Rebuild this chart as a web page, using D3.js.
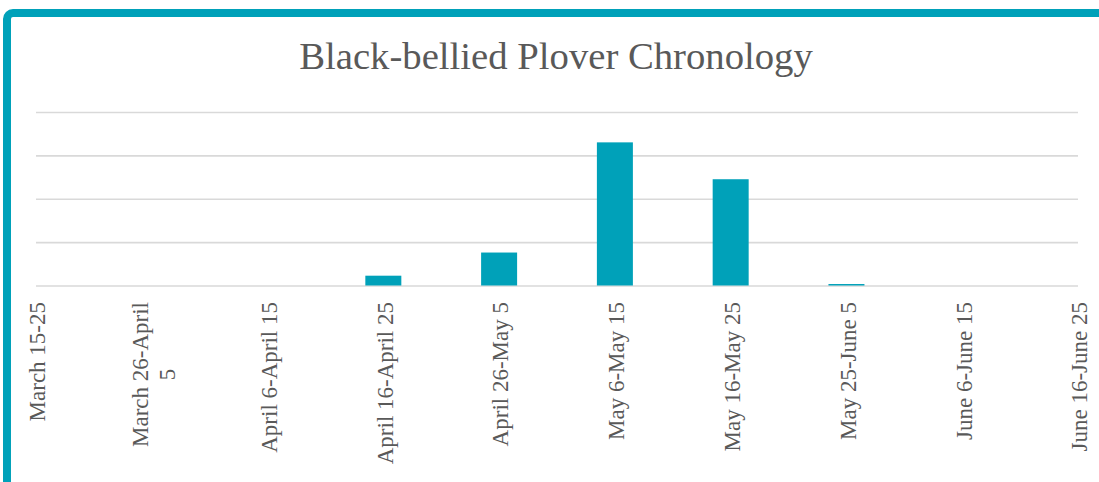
<!DOCTYPE html>
<html>
<head>
<meta charset="utf-8">
<script src="https://cdn.jsdelivr.net/npm/d3@7"></script>
<style>
  html, body { margin: 0; padding: 0; background: #fff; overflow: hidden; }
  svg { display: block; }
</style>
</head>
<body>
<svg id="chart" width="1099" height="482"></svg>
<script>
// ---- data ----
const title = "Black-bellied Plover Chronology";
const categories = [
  "March 15-25", "March 26-April 5", "April 6-April 15", "April 16-April 25",
  "April 26-May 5", "May 6-May 15", "May 16-May 25", "May 25-June 5",
  "June 6-June 15", "June 16-June 25"
];
// tick labels as displayed (wrapped lines)
const tickLabels = [
  ["March 15-25"], ["March 26-April", "5"], ["April 6-April 15"], ["April 16-April 25"],
  ["April 26-May 5"], ["May 6-May 15"], ["May 16-May 25"], ["May 25-June 5"],
  ["June 6-June 15"], ["June 16-June 25"]
];
const values = [0, 0, 0, 11.3, 38, 165, 122.5, 1.7, 0, 0];
const gridTicks = [0, 50, 100, 150, 200];

// ---- layout ----
const teal = "#00A1B9";
const textColor = "#595959";
const plot = { left: 36, right: 1078, top: 112, bottom: 285.5 };

const svg = d3.select("#chart");

// frame
svg.append("rect")
  .attr("x", 7).attr("y", 13)
  .attr("width", 1200).attr("height", 600)
  .attr("rx", 6).attr("ry", 6)
  .attr("fill", "#fff")
  .attr("stroke", teal).attr("stroke-width", 8);

// title
svg.append("text")
  .attr("x", 556).attr("y", 69)
  .attr("text-anchor", "middle")
  .attr("font-family", "'Liberation Serif', serif")
  .attr("font-size", 38.7)
  .attr("fill", textColor)
  .text(title);

const x = d3.scalePoint().domain(categories).range([plot.left, plot.right]).padding(0);
const y = d3.scaleLinear().domain([0, 200]).range([plot.bottom, plot.top]);

// gridlines
const yAxis = d3.axisLeft(y).tickValues(gridTicks).tickSize(-(plot.right - plot.left)).tickFormat("");
const gy = svg.append("g").attr("transform", `translate(${plot.left},0)`).call(yAxis);
gy.select(".domain").remove();
gy.selectAll(".tick line").attr("stroke", "#d9d9d9").attr("stroke-width", 1.6);

// bars
const barW = 36;
svg.append("g").selectAll("rect")
  .data(categories.map((c, i) => ({ c, v: values[i] })))
  .join("rect")
  .attr("x", d => x(d.c) - barW / 2)
  .attr("width", barW)
  .attr("y", d => y(d.v))
  .attr("height", d => y(0) - y(d.v))
  .attr("fill", teal);

// category labels (rotated)
const labelTop = 302;
const fs = 23;
const lineH = 27;
const lg = svg.append("g")
  .attr("font-family", "'Liberation Serif', serif")
  .attr("font-size", fs)
  .attr("fill", textColor);

categories.forEach((c, i) => {
  const lines = tickLabels[i];
  const g = lg.append("g")
    .attr("transform", `translate(${x(c) + 2},${labelTop}) rotate(-90)`);
  const texts = lines.map((ln, j) => g.append("text")
    .attr("text-anchor", "middle")
    .attr("dy", "0.32em")
    .text(ln));
  const maxL = d3.max(texts, t => t.node().getComputedTextLength());
  const n = lines.length;
  texts.forEach((t, j) => {
    t.attr("x", -maxL / 2)
     .attr("y", (j - (n - 1) / 2) * lineH);
  });
});
</script>
</body>
</html>
